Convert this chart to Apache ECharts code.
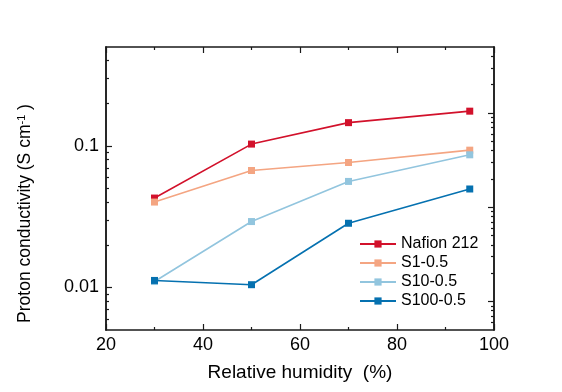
<!DOCTYPE html>
<html>
<head>
<meta charset="utf-8">
<script src="https://cdn.jsdelivr.net/npm/echarts@6/dist/echarts.min.js"></script>
<style>
  html, body { margin: 0; padding: 0; background: #fff; }
  #chart { width: 562px; height: 392px; }
</style>
</head>
<body>
<div id="chart"></div>
<script>
// relative humidity (%)
var humidity = [30, 50, 70, 95];

// proton conductivity (S/cm)
var nafion212 = [0.0428, 0.103, 0.146, 0.176];
var s1 = [0.0401, 0.067, 0.0763, 0.0933];
var s10 = [0.0110, 0.0292, 0.0561, 0.0865];
var s100 = [0.0112, 0.01045, 0.0284, 0.0496];

var seriesNames = ['Nafion 212', 'S1-0.5', 'S10-0.5', 'S100-0.5'];
var seriesColors = ['#d2112b', '#f4a582', '#92c5de', '#0571b0'];

// tick values for the log axes
var leftMajor = [0.01, 0.1];
var leftMinor = [0.006, 0.007, 0.008, 0.009, 0.02, 0.03, 0.04, 0.05, 0.06, 0.07, 0.08, 0.09, 0.2, 0.3, 0.4];
// right frame axis has its own (odd) scale in the original figure
var rightMajor = [0.001, 0.01, 0.1];
var rightMinor = [0.0006, 0.0007, 0.0008, 0.0009, 0.002, 0.003, 0.004, 0.005, 0.006, 0.007, 0.008, 0.009,
    0.02, 0.03, 0.04, 0.05, 0.06, 0.07, 0.08, 0.09, 0.2, 0.3, 0.4];

var font = 'Liberation Sans, Arial, sans-serif';
var axisColor = '#1a1a1a';

function pairs(vals) {
    return humidity.map(function (h, i) { return [h, vals[i]]; });
}

// a log axis that only draws ticks
function tickAxis(pos, min, max, ticks, len) {
    return {
        type: 'log', position: pos, min: min, max: max,
        axisLine: { show: true, lineStyle: { color: axisColor, width: 1.5 } },
        axisTick: { show: true, inside: true, length: len, customValues: ticks, lineStyle: { color: axisColor, width: 1.2 } },
        axisLabel: { show: false },
        splitLine: { show: false }
    };
}

var xBase = {
    type: 'value', min: 20, max: 100, interval: 20,
    axisLine: { show: true, lineStyle: { color: axisColor, width: 1.5 } },
    axisTick: { show: true, inside: true, length: 6, lineStyle: { color: axisColor, width: 1.2 } },
    minorTick: { show: true, splitNumber: 2, length: 3, lineStyle: { color: axisColor, width: 1.2 } },
    splitLine: { show: false }
};

var option = {
    backgroundColor: '#fff',
    animation: false,
    textStyle: { fontFamily: font },
    grid: { left: 106, right: 68, top: 47, bottom: 62, containLabel: false },
    xAxis: [
        Object.assign({}, xBase, {
            position: 'bottom',
            name: 'Relative humidity  (%)',
            nameLocation: 'middle',
            nameGap: 33,
            nameTextStyle: { fontSize: 19, color: '#000', fontFamily: font },
            axisLabel: { show: true, margin: 6, fontSize: 18, color: '#000', fontFamily: font }
        }),
        Object.assign({}, xBase, {
            position: 'top',
            axisLabel: { show: false }
        })
    ],
    yAxis: [
        {
            type: 'log', position: 'left', min: 0.005, max: 0.5,
            name: 'Proton conductivity (S cm{sup|-1} )',
            nameLocation: 'middle',
            nameGap: 72,
            nameTextStyle: {
                fontSize: 17.5, color: '#000', fontFamily: font,
                padding: [0, 50, 0, 0],
                rich: { sup: { fontSize: 11, verticalAlign: 'top', color: '#000', fontFamily: font } }
            },
            axisLine: { show: true, lineStyle: { color: axisColor, width: 1.5 } },
            axisTick: { show: true, inside: true, length: 6, customValues: leftMajor, lineStyle: { color: axisColor, width: 1.2 } },
            axisLabel: { show: true, customValues: leftMajor, margin: 7, fontSize: 18, color: '#000', fontFamily: font },
            splitLine: { show: false }
        },
        tickAxis('right', 0.0005, 0.5, rightMajor, 6),
        tickAxis('left', 0.005, 0.5, leftMinor, 3),
        tickAxis('right', 0.0005, 0.5, rightMinor, 3)
    ],
    legend: {
        orient: 'vertical',
        left: 354,
        top: 231,
        itemWidth: 36,
        itemHeight: 9,
        itemGap: 3,
        textStyle: { fontSize: 16, color: '#000', fontFamily: font, padding: [0, 0, 0, 0] },
        data: seriesNames
    },
    series: [nafion212, s1, s10, s100].map(function (vals, i) {
        return {
            name: seriesNames[i],
            type: 'line',
            xAxisIndex: 0,
            yAxisIndex: 0,
            data: pairs(vals),
            symbol: 'rect',
            symbolSize: 7,
            color: seriesColors[i],
            lineStyle: { width: 1.6, color: seriesColors[i] },
            itemStyle: { color: seriesColors[i] }
        };
    })
};

var chart = echarts.init(document.getElementById('chart'), null, { renderer: 'canvas' });
chart.setOption(option);
</script>
</body>
</html>
